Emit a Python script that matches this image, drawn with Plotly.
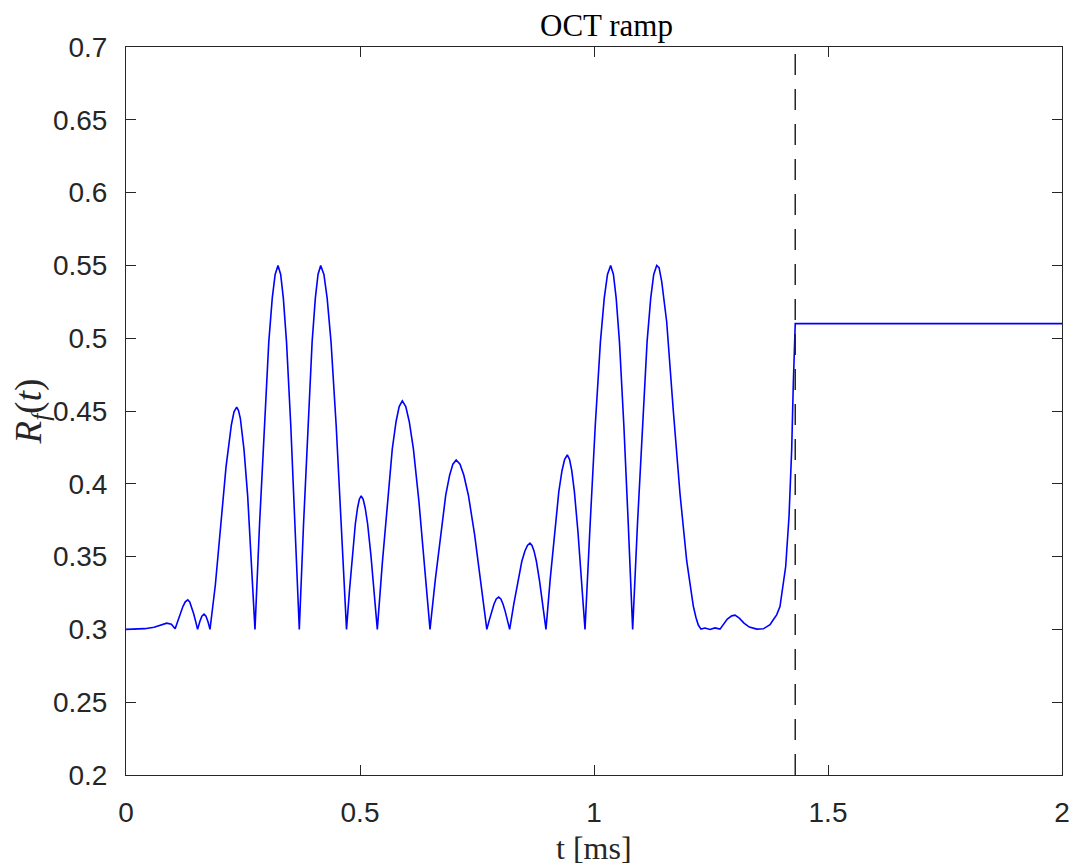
import plotly.graph_objects as go

# ---- data ----
t_ms = [
    0.0, 0.02, 0.04, 0.06, 0.075, 0.087, 0.097, 0.105,
    0.1104, 0.1158, 0.1212, 0.1266, 0.132, 0.1362, 0.1404, 0.1446, 0.1488, 0.153,
    0.1576, 0.1621, 0.1667, 0.1709, 0.1752, 0.1795,
    0.1909, 0.2023, 0.2137, 0.2251, 0.2308, 0.2365,
    0.2404, 0.2443, 0.2521, 0.2600, 0.2678, 0.2756,
    0.2854, 0.2953, 0.3051, 0.3125, 0.3187, 0.3248,
    0.3305, 0.3362, 0.3430, 0.3521, 0.3612, 0.3703,
    0.3794, 0.3886, 0.3977, 0.4046, 0.4103, 0.4160,
    0.4229, 0.4298, 0.4381, 0.4491, 0.4602, 0.4712,
    0.4775, 0.4837, 0.4900, 0.4947, 0.4986, 0.5025,
    0.5068, 0.5111, 0.5163, 0.5232, 0.5301, 0.5370,
    0.5477, 0.5584, 0.5690, 0.5771, 0.5837, 0.5904,
    0.5978, 0.6052, 0.6141, 0.6259, 0.6378, 0.6496,
    0.6608, 0.6720, 0.6831, 0.6915, 0.6985, 0.7055,
    0.7137, 0.7219, 0.7317, 0.7448, 0.7579, 0.7710,
    0.7761, 0.7811, 0.7862, 0.7912, 0.7963, 0.8010, 0.8057, 0.8104, 0.8151, 0.8198,
    0.8285, 0.8372, 0.8458, 0.8524, 0.8578, 0.8632,
    0.8675, 0.8718, 0.8769, 0.8837, 0.8906, 0.8974,
    0.9065, 0.9156, 0.9248, 0.9316, 0.9373, 0.9430,
    0.9477, 0.9525, 0.9581, 0.9657, 0.9732, 0.9808,
    0.9918, 1.0027, 1.0137, 1.0219, 1.0288, 1.0356,
    1.0415, 1.0474, 1.0544, 1.0638, 1.0732, 1.0826,
    1.0929, 1.1032, 1.1134, 1.1212, 1.1276, 1.1340,
    1.1390, 1.1447, 1.1553, 1.1695, 1.1838, 1.1981, 1.2122, 1.2180, 1.2229, 1.2286,
    1.2372, 1.2479, 1.2585, 1.2692,
    1.2763, 1.2849, 1.2942, 1.3013, 1.3105, 1.3205, 1.3319, 1.3477, 1.3618,
    1.3761, 1.3831, 1.3903, 1.3974, 1.4031, 1.4096, 1.4167, 1.4224, 1.4259, 1.4280,
    1.4295, 1.43,
    2.0,
]
r_f = [
    0.3, 0.3001, 0.3005, 0.3015, 0.3032, 0.3043, 0.3035, 0.3005,
    0.3055, 0.3108, 0.3154, 0.3189, 0.3203, 0.3189, 0.3154, 0.3108, 0.3055, 0.3,
    0.3053, 0.3091, 0.3105, 0.3091, 0.3053, 0.3,
    0.3305, 0.3687, 0.4114, 0.4404, 0.4495, 0.4526,
    0.4503, 0.4450, 0.4236, 0.3916, 0.3488, 0.3,
    0.3725, 0.44, 0.4975, 0.5275, 0.5438, 0.55,
    0.5438, 0.5275, 0.4975, 0.44, 0.3725, 0.3,
    0.3725, 0.44, 0.4975, 0.5275, 0.5438, 0.55,
    0.5438, 0.5275, 0.4975, 0.44, 0.3725, 0.3,
    0.3266, 0.3514, 0.3724, 0.3834, 0.3894, 0.3917,
    0.3894, 0.3834, 0.3724, 0.3514, 0.3266, 0.3,
    0.3455, 0.3879, 0.4240, 0.4428, 0.4530, 0.4569,
    0.4530, 0.4428, 0.4240, 0.3879, 0.3455, 0.3,
    0.3338, 0.3652, 0.3920, 0.4059, 0.4135, 0.4164,
    0.4135, 0.4059, 0.3920, 0.3652, 0.3338, 0.3,
    0.3062, 0.3122, 0.3173, 0.3209, 0.3222, 0.3209, 0.3173, 0.3122, 0.3062, 0.3,
    0.3172, 0.3332, 0.3468, 0.3539, 0.3577, 0.3592,
    0.3577, 0.3539, 0.3468, 0.3332, 0.3172, 0.3,
    0.3347, 0.3671, 0.3946, 0.4090, 0.4168, 0.4198,
    0.4168, 0.4090, 0.3946, 0.3671, 0.3347, 0.3,
    0.3725, 0.44, 0.4975, 0.5275, 0.5438, 0.55,
    0.5438, 0.5275, 0.4975, 0.44, 0.3725, 0.3,
    0.3725, 0.44, 0.4975, 0.5275, 0.5438, 0.55,
    0.5485, 0.5388, 0.5113, 0.45, 0.393, 0.347, 0.316, 0.308, 0.303, 0.3002,
    0.3009, 0.3, 0.301, 0.3002,
    0.3032, 0.3071, 0.3093, 0.3098, 0.3077, 0.3043, 0.3016, 0.3002, 0.3004,
    0.3032, 0.3066, 0.3100, 0.3157, 0.3272, 0.3432, 0.3775, 0.4233, 0.469, 0.4942,
    0.5097, 0.51,
    0.51,
]
t_switch = 1.43

x_ticks = [0, 0.5, 1, 1.5, 2]
x_tick_labels = ["0", "0.5", "1", "1.5", "2"]
y_ticks = [0.2, 0.25, 0.3, 0.35, 0.4, 0.45, 0.5, 0.55, 0.6, 0.65, 0.7]
y_tick_labels = ["0.2", "0.25", "0.3", "0.35", "0.4", "0.45", "0.5", "0.55", "0.6", "0.65", "0.7"]

AX = "#262626"
SANS = "Liberation Sans, Arial, Helvetica, sans-serif"
SERIF = "Liberation Serif, Times New Roman, serif"

fig = go.Figure()
fig.add_trace(go.Scatter(x=t_ms, y=r_f, mode="lines",
                         line=dict(color="#0000FF", width=1.6),
                         showlegend=False, hoverinfo="skip"))
fig.add_trace(go.Scatter(x=[t_switch, t_switch], y=[y_ticks[0], y_ticks[-1]], mode="lines",
                         line=dict(color=AX, width=1.5, dash="21px,14px"),
                         showlegend=False, hoverinfo="skip"))

axis_common = dict(showline=True, mirror="ticks", linecolor=AX, linewidth=1,
                   ticks="inside", ticklen=10, tickwidth=1, tickcolor=AX,
                   showgrid=False, zeroline=False, automargin=False,
                   tickfont=dict(family=SANS, size=28, color=AX))

fig.update_xaxes(range=[0, 2], tickvals=x_ticks, ticktext=x_tick_labels,
                 ticklabelstandoff=12, **axis_common)
fig.update_yaxes(range=[0.2, 0.7], tickvals=y_ticks, ticktext=y_tick_labels,
                 ticklabelstandoff=12, **axis_common)

fig.update_layout(
    width=1073, height=868,
    margin=dict(l=126, r=11, t=47, b=93),
    paper_bgcolor="white", plot_bgcolor="white",
    annotations=[
        dict(text="OCT ramp", x=0.513, y=1, xref="paper", yref="paper",
             xanchor="center", yanchor="bottom", yshift=2, showarrow=False,
             font=dict(family=SERIF, size=31, color="black")),
        dict(text="t [ms]", x=0.5, y=-0.1, xref="paper", yref="paper",
             xanchor="center", yanchor="middle", showarrow=False,
             font=dict(family=SERIF, size=32, color=AX)),
        dict(text="<i>R</i><sub><i>f</i></sub>(<i>t</i>)", x=-0.101, y=0.5,
             xref="paper", yref="paper", xanchor="center", yanchor="middle",
             textangle=-90, showarrow=False,
             font=dict(family=SERIF, size=37, color=AX)),
    ],
)

fig.write_html("out.html")
